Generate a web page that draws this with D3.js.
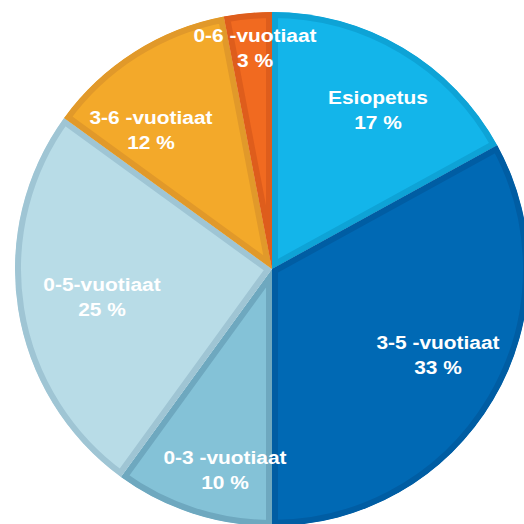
<!DOCTYPE html>
<html lang="fi">
<head>
<meta charset="UTF-8">
<title>Pie</title>
<script src="https://d3js.org/d3.v7.min.js"></script>
<style>
  body { margin: 0; background: #fff; }
  svg { display: block; }
  .lbl { font-family: "Liberation Sans", Arial, sans-serif; font-weight: bold; font-size: 19px; fill: #fff; }
</style>
</head>
<body>
<svg width="524" height="524"></svg>
<script>
  const labels = ["Esiopetus", "3-5 -vuotiaat", "0-3 -vuotiaat", "0-5-vuotiaat", "3-6 -vuotiaat", "0-6 -vuotiaat"];
  const values = [17, 33, 10, 25, 12, 3];
  const fills = ["#13b5ea", "#0069b4", "#84c2d7", "#b8dce7", "#f3a92a", "#f16a20"];
  const borders = ["#0ea3d6", "#005da3", "#6ea8bf", "#9fc5d4", "#e1992a", "#de5d1c"];
  // label anchor points (line 1 baseline)
  const labelX = [378, 438, 225, 102, 151, 255];
  const labelY = [104, 349, 464, 291, 124, 42];

  const cx = 272, cy = 269, r = 257;
  const svg = d3.select("svg");
  const g = svg.append("g").attr("transform", `translate(${cx},${cy})`);

  const pie = d3.pie().sort(null).value(d => d.v);
  const arc = d3.arc().innerRadius(0).outerRadius(r);
  const data = pie(values.map((v, i) => ({ v, i })));

  const defs = svg.append("defs");
  data.forEach((d, i) => {
    defs.append("clipPath").attr("id", "clip" + i)
      .append("path").attr("d", arc(d));
  });

  const slices = g.selectAll("g.slice").data(data).enter()
    .append("g").attr("class", "slice")
    .attr("clip-path", (d, i) => `url(#clip${i})`);

  slices.append("path")
    .attr("d", arc)
    .attr("fill", (d, i) => fills[i])
    .attr("stroke", (d, i) => borders[i])
    .attr("stroke-width", 12)
    .attr("stroke-linejoin", "miter");

  const lbl = svg.append("g").selectAll("g").data(labels).enter()
    .append("g")
    .attr("transform", (d, i) => `translate(${labelX[i]},${labelY[i]}) scale(1.1,1)`);

  lbl.append("text").attr("class", "lbl").attr("text-anchor", "middle")
    .text(d => d);
  lbl.append("text").attr("class", "lbl").attr("text-anchor", "middle")
    .attr("y", 25)
    .text((d, i) => values[i] + " %");
</script>
</body>
</html>
